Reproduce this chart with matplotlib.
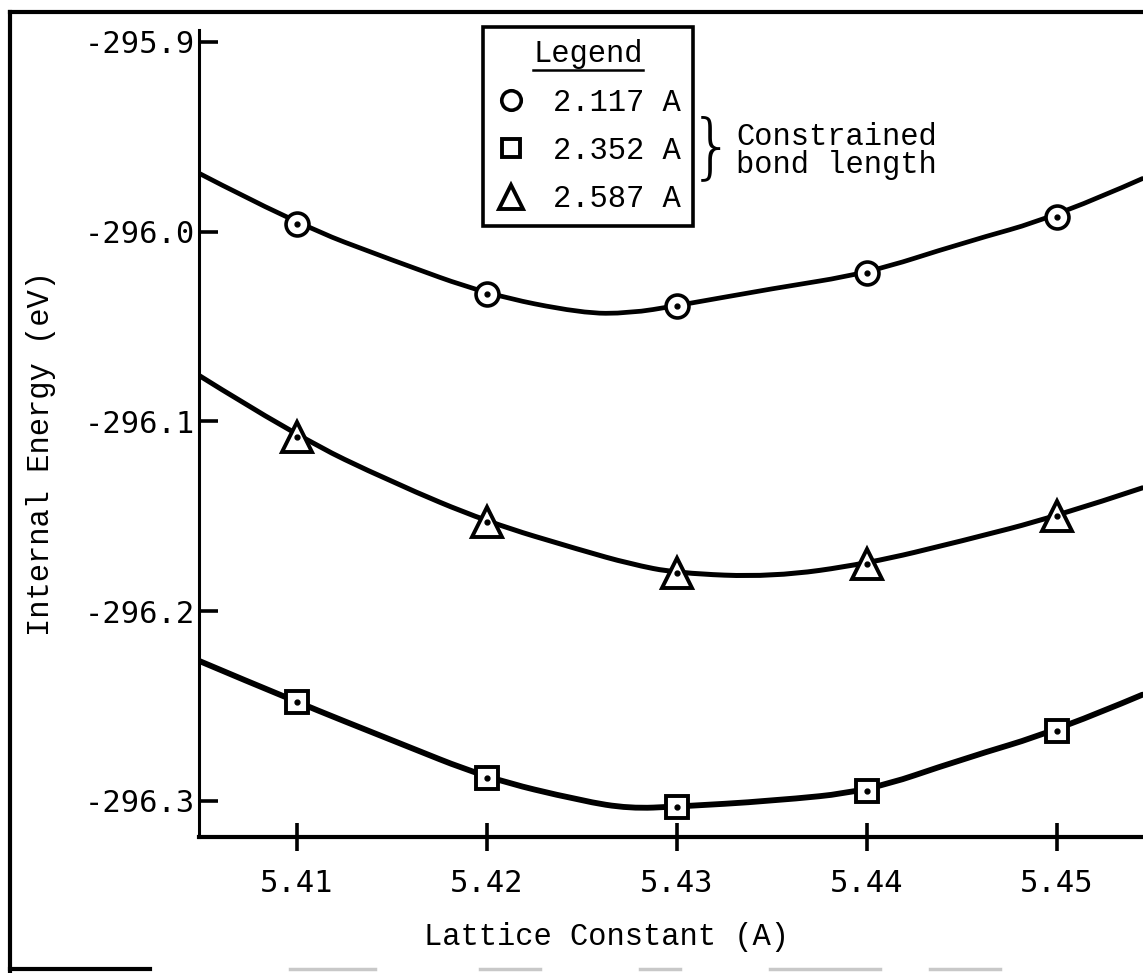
import matplotlib
matplotlib.use("Agg")
import matplotlib.pyplot as plt
from matplotlib.lines import Line2D
from matplotlib.path import Path
from matplotlib.patches import PathPatch
from matplotlib.font_manager import FontProperties

# Data points (lattice constant vs internal energy) for each constrained bond length
lattice = [5.41, 5.42, 5.43, 5.44, 5.45]
e_2117 = [-295.996, -296.033, -296.039, -296.022, -295.992]
e_2352 = [-296.248, -296.288, -296.303, -296.295, -296.263]
e_2587 = [-296.108, -296.153, -296.180, -296.175, -296.150]

# Hand-drawn fitted curves
curve_x = [5.4048, 5.41, 5.415, 5.42, 5.425, 5.4275, 5.43, 5.435, 5.44, 5.445, 5.45, 5.4545]
curve_2117 = [-295.969, -295.996, -296.015, -296.033, -296.043, -296.043, -296.039,
              -296.030, -296.022, -296.006, -295.992, -295.972]
curve_2352 = [-296.226, -296.248, -296.268, -296.288, -296.300, -296.304, -296.303,
              -296.300, -296.295, -296.278, -296.263, -296.244]
curve_2587 = [-296.0755, -296.108, -296.132, -296.153, -296.168, -296.175, -296.180,
              -296.182, -296.175, -296.163, -296.150, -296.135]

labels = ["2.117 A", "2.352 A", "2.587 A"]
xticks = [5.41, 5.42, 5.43, 5.44, 5.45]
yticks = [-295.9, -296.0, -296.1, -296.2, -296.3]

W, H = 1143, 973
fig = plt.figure(figsize=(W / 100, H / 100), dpi=100)
ax = fig.add_axes([199 / W, (H - 837) / H, (W - 199) / W, (837 - 30) / H])

tick_font = FontProperties(family="DejaVu Sans Mono", size=22)
mono = FontProperties(family="Liberation Mono", size=22)


def smooth_path(xs, ys):
    # quadratic Bezier through midpoints, traced points act as control points
    verts = [(xs[0], ys[0])]
    codes = [Path.MOVETO]
    for i in range(1, len(xs) - 1):
        mx = (xs[i] + xs[i + 1]) / 2
        my = (ys[i] + ys[i + 1]) / 2
        if i == len(xs) - 2:
            mx, my = xs[-1], ys[-1]
        verts += [(xs[i], ys[i]), (mx, my)]
        codes += [Path.CURVE3, Path.CURVE3]
    return Path(verts, codes)


# curves
for cy, lw in [(curve_2117, 3.4), (curve_2587, 3.6), (curve_2352, 4.2)]:
    ax.add_patch(PathPatch(smooth_path(curve_x, cy), facecolor="none", edgecolor="black",
                           lw=lw, capstyle="round", joinstyle="round", zorder=2))

# markers
h1, = ax.plot(lattice, e_2117, linestyle="none", marker="o", ms=16.5, mfc="white",
              mec="black", mew=2.6, zorder=3, label=labels[0])
h2, = ax.plot(lattice, e_2352, linestyle="none", marker="s", ms=16, mfc="white",
              mec="black", mew=2.8, zorder=3, label=labels[1])
h3, = ax.plot(lattice, e_2587, linestyle="none", marker="^", ms=21, mfc="white",
              mec="black", mew=2.8, zorder=3, label=labels[2])
for ys in (e_2117, e_2352, e_2587):
    ax.plot(lattice, ys, linestyle="none", marker="o", ms=3.5, color="black", zorder=4)

ax.set_xlim(5.40484, 5.45453)
ax.set_ylim(-296.319, -295.8937)
ax.set_xticks(xticks)
ax.set_xticklabels([f"{t:.2f}" for t in xticks], fontproperties=tick_font)
ax.set_yticks(yticks)
ax.set_yticklabels([f"{t:.1f}" for t in yticks], fontproperties=tick_font)

for s in ("top", "right"):
    ax.spines[s].set_visible(False)
ax.spines["left"].set_linewidth(2.2)
ax.spines["bottom"].set_linewidth(3.0)
ax.tick_params(axis="y", direction="in", length=14, width=2.6, pad=3)
ax.tick_params(axis="x", direction="inout", length=20, width=2.6, pad=13)

ax.set_xlabel("Lattice Constant (A)", fontproperties=mono)
ax.xaxis.set_label_coords(0.432, -0.105)
ax.set_ylabel("Internal Energy (eV)", fontproperties=mono)
ax.yaxis.set_label_coords(-0.151, 0.475)

leg = ax.legend(handles=[h1, h2, h3], title="Legend", loc="upper left",
                bbox_to_anchor=(483 / W, 1 - 27 / H), bbox_transform=fig.transFigure,
                borderaxespad=0, fancybox=False, edgecolor="black", framealpha=1,
                prop=mono, title_fontproperties=mono, handlelength=1.0,
                handletextpad=0.9, labelspacing=0.6, borderpad=0.4, markerscale=0.85)
leg.get_frame().set_linewidth(2.6)

fig.text(735 / W, 1 - 150 / H, "}", fontsize=52, family="DejaVu Sans",
         fontweight="light", va="center", ha="right")
fig.text(736 / W, 1 - 151 / H, "Constrained\nbond length", fontproperties=mono,
         va="center", ha="left", linespacing=0.92)

# outer frame of the scanned page
fig.add_artist(Line2D([10 / W, 10 / W], [0, 1 - 12 / H], transform=fig.transFigure,
                      color="black", lw=3))
fig.add_artist(Line2D([10 / W, 1], [1 - 12 / H, 1 - 12 / H], transform=fig.transFigure,
                      color="black", lw=3))
fig.add_artist(Line2D([10 / W, 150 / W], [4 / H, 4 / H], transform=fig.transFigure,
                      color="black", lw=3))
for x0, x1 in [(290, 375), (480, 540), (640, 680), (770, 880), (930, 1000)]:
    fig.add_artist(Line2D([x0 / W, x1 / W], [4 / H, 4 / H], transform=fig.transFigure,
                          color="#c8c8c8", lw=2.5))

# underline legend title
fig.canvas.draw()
tb = leg.get_title().get_window_extent(fig.canvas.get_renderer())
fig.add_artist(Line2D([tb.x0 / W, tb.x1 / W], [(tb.y0 - 1) / H, (tb.y0 - 1) / H],
                      transform=fig.transFigure, color="black", lw=1.8))

fig.savefig("out.png", dpi=100)
